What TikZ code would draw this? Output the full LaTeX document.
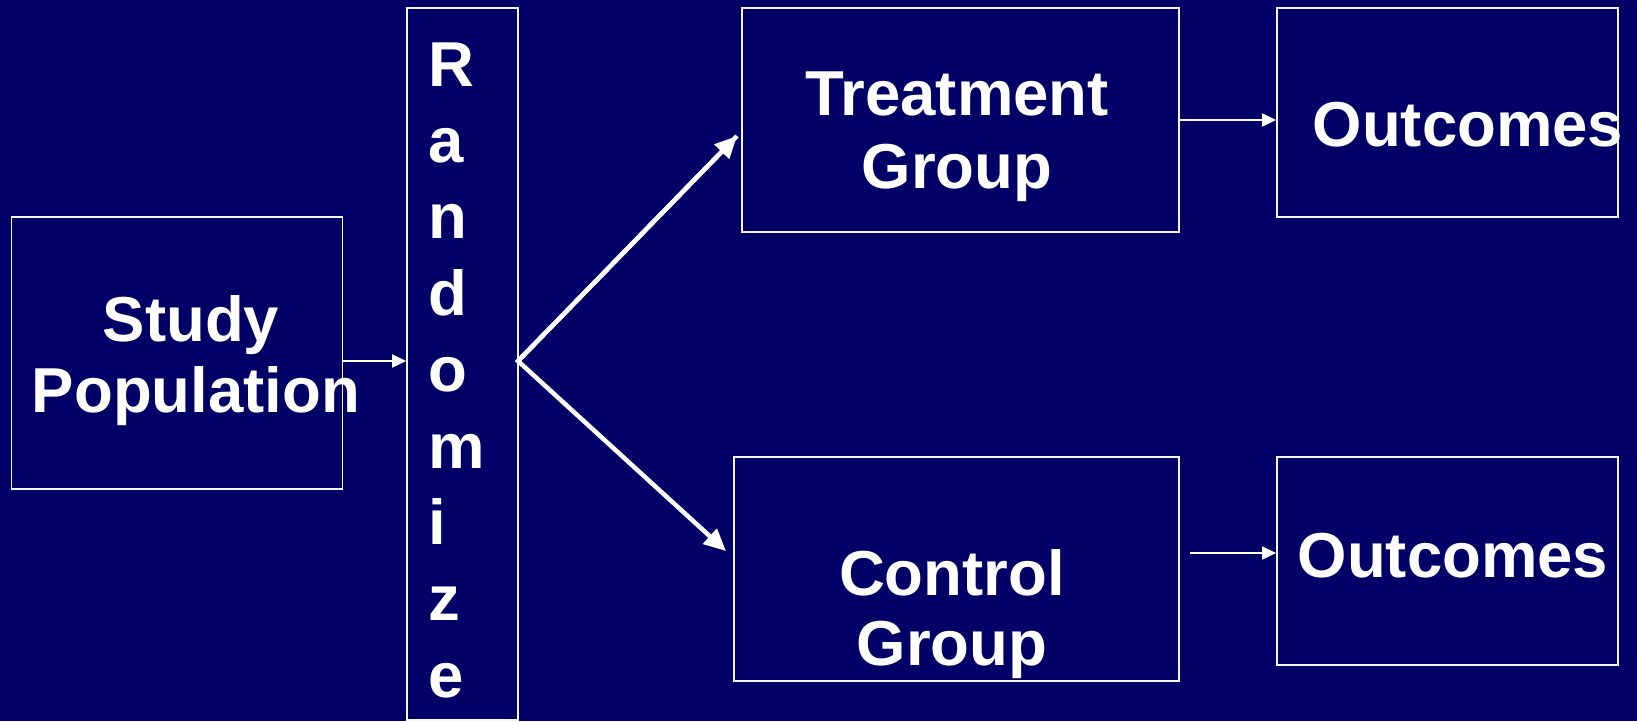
\documentclass[tikz,border=0pt]{standalone}
\usepackage{fontspec}
\setmainfont{Liberation Sans}
\usetikzlibrary{arrows.meta}
\definecolor{navy}{RGB}{0,0,102}
\tikzset{
  box/.style={draw=white!92!gray, line width=1.8pt, inner sep=0pt, minimum width=#1},
  lbl/.style={text=white, font=\fontsize{63.5}{71}\selectfont\bfseries, inner sep=0pt, anchor=base},
  thin arrow/.style={draw=white, line width=1.8pt, -{Triangle[length=14pt,width=13pt]}},
  thick arrow/.style={draw=white, line width=4.5pt, -{Triangle[length=22pt,width=20pt]}},
}
\begin{document}
\begin{tikzpicture}[x=1pt,y=-1pt]
\fill[navy] (0,0) rectangle (1637,721);
\useasboundingbox (0,0) rectangle (1637,721);
% boxes
\node[box=331pt, minimum height=272pt] (sp) at (177,353) {};
\node[box=111pt, minimum height=712pt] (rnd) at (462.5,364) {};
\node[box=437pt, minimum height=224pt] (tg) at (960.5,120) {};
\node[box=445pt, minimum height=224pt] (cg) at (956.5,569) {};
\node[box=341pt, minimum height=209pt] (o1) at (1447.5,112.5) {};
\node[box=341pt, minimum height=208pt] (o2) at (1447.5,561) {};
% texts
\node[lbl] (spa) at (191,341) {Study};
\node[lbl] (spb) at (196,412) {Population};
\foreach \l [count=\i from 0] in {R,a,n,d,o,m,i,z,e}
  \node[lbl, anchor=base west] (r\i) at (428,86+76.4*\i) {\l};
\node[lbl] (tga) at (957,115) {Treatment};
\node[lbl] (tgb) at (957,188) {Group};
\node[lbl] (cga) at (952,595) {Control};
\node[lbl] (cgb) at (952,665) {Group};
\node[lbl] (o1t) at (1468,146) {Outcomes};
\node[lbl] (o2t) at (1453,577) {Outcomes};
% connectors
\coordinate (fan) at (518,361);
\coordinate (ta) at (737,136);
\coordinate (tb) at (726,551);
\coordinate (cs) at (1190,553);
\draw[thin arrow] (sp.east |- fan) -- (rnd.west |- fan);
\draw[thick arrow, line join=miter] (ta) -- (fan) -- (tb);
\draw[thick arrow] (fan) -- (ta);
\draw[thin arrow] (tg.east) -- (tg.east -| o1.west);
\draw[thin arrow] (cs) -- (cs -| o2.west);
\end{tikzpicture}
\end{document}
